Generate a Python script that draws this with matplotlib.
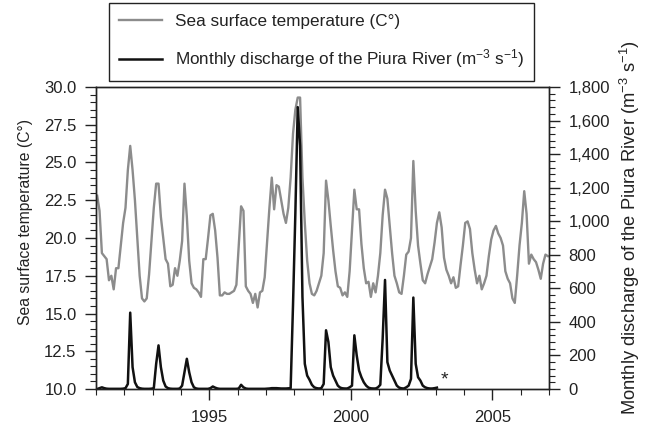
import numpy as np
import matplotlib
matplotlib.use('Agg')
import matplotlib.pyplot as plt
from matplotlib.ticker import MultipleLocator, FuncFormatter, FormatStrFormatter

plt.rcParams['font.family'] = ['Liberation Sans', 'DejaVu Sans']
plt.rcParams['mathtext.default'] = 'regular'
plt.rcParams['mathtext.fontset'] = 'custom'
plt.rcParams['mathtext.rm'] = 'Liberation Sans'

# ---------------- data (monthly, Jan 1991 onward) ----------------
start_year = 1991

sst = [
    22.8, 21.8, 19.0, 18.8, 18.6, 17.2, 17.5, 16.6, 18.0, 18.0, 19.5, 21.0,   # 1991
    22.0, 24.5, 26.1, 24.5, 22.5, 20.0, 17.5, 16.0, 15.8, 16.0, 17.6, 19.8,   # 1992
    22.0, 23.6, 23.6, 21.4, 20.0, 18.6, 18.3, 16.8, 16.9, 18.0, 17.5, 18.5,   # 1993
    19.8, 23.6, 21.4, 18.5, 17.0, 16.7, 16.6, 16.4, 16.1, 18.6, 18.6, 20.0,   # 1994
    21.5, 21.6, 20.5, 18.7, 16.2, 16.2, 16.4, 16.3, 16.3, 16.4, 16.5, 16.9,   # 1995
    19.5, 22.1, 21.8, 16.8, 16.5, 16.3, 15.7, 16.3, 15.4, 16.4, 16.5, 17.4,   # 1996
    19.7, 22.0, 24.0, 21.9, 23.5, 23.4, 22.5, 21.6, 21.0, 22.0, 24.0, 26.9,   # 1997
    28.5, 29.3, 29.3, 24.0, 21.0, 18.5, 17.0, 16.3, 16.2, 16.5, 17.0, 17.5,   # 1998
    19.0, 23.8, 22.5, 20.8, 19.2, 17.8, 16.8, 16.7, 16.2, 16.4, 16.1, 17.8,   # 1999
    20.5, 23.2, 21.9, 21.9, 19.6, 18.0, 17.0, 17.1, 16.1, 17.0, 16.4, 17.5,   # 2000
    19.0, 21.5, 23.2, 22.6, 20.8, 19.0, 17.5, 17.0, 16.4, 16.3, 17.5, 18.9,   # 2001
    19.1, 20.0, 25.1, 21.8, 19.5, 18.3, 17.2, 17.0, 17.6, 18.1, 18.6, 19.7,   # 2002
    21.0, 21.7, 20.7, 18.7, 17.9, 17.5, 17.0, 17.4, 16.7, 16.8, 18.2, 19.5,   # 2003
    21.0, 21.1, 20.6, 19.0, 17.9, 17.0, 17.5, 16.6, 17.0, 17.5, 18.8, 19.9,   # 2004
    20.5, 20.8, 20.3, 20.0, 19.5, 17.8, 17.3, 17.0, 16.0, 15.7, 17.5, 19.5,   # 2005
    21.0, 23.1, 21.6, 18.3, 18.9, 18.6, 18.4, 17.9, 17.3, 18.3, 18.9, 18.8,   # 2006
]

discharge = [
    0, 5, 10, 5, 2, 1, 1, 1, 1, 1, 1, 2,                    # 1991
    5, 30, 455, 130, 40, 12, 5, 2, 1, 1, 1, 2,              # 1992
    5, 150, 260, 130, 50, 15, 5, 2, 1, 1, 1, 3,             # 1993
    20, 100, 180, 100, 40, 10, 3, 1, 1, 1, 1, 1,            # 1994
    5, 15, 8, 3, 1, 1, 1, 1, 1, 1, 1, 1,                    # 1995
    3, 25, 10, 3, 1, 1, 1, 1, 1, 1, 1, 1,                   # 1996
    2, 3, 5, 5, 5, 4, 3, 3, 3, 4, 5, 500,                   # 1997
    1050, 1680, 1450, 550, 150, 80, 55, 25, 10, 5, 3, 5,    # 1998
    30, 350, 280, 130, 80, 50, 20, 8, 4, 3, 3, 10,          # 1999
    20, 320, 200, 110, 70, 40, 20, 8, 4, 3, 3, 10,          # 2000
    25, 300, 650, 160, 110, 80, 50, 20, 8, 4, 3, 10,        # 2001
    20, 60, 545, 150, 70, 50, 20, 10, 5, 3, 3, 5,           # 2002
    8,                                                       # Jan 2003
]

sst_label = 'Sea surface temperature (C°)'
dis_label = 'Monthly discharge of the Piura River (m$^{-3}$ s$^{-1}$)'
right_label = 'Monthly discharge of the Piura River (m$^{-3}$ s$^{-1}$)'

t_sst = start_year + (np.arange(len(sst)) + 0.5) / 12.0
t_dis = start_year + (np.arange(len(discharge)) + 0.5) / 12.0

# ---------------- figure ----------------
TXT = '#222222'
fig = plt.figure(figsize=(6.45, 4.29), dpi=100)
ax = fig.add_axes([96 / 645, 1 - 389 / 429, (549 - 96) / 645, (389 - 87) / 429])
l1, = ax.plot(t_sst, sst, color='#8c8c8c', lw=1.7, label=sst_label)
ax2 = ax.twinx()
l2, = ax2.plot(t_dis, discharge, color='#111111', lw=1.8, label=dis_label)

ax.set_xlim(1991, 2007)
ax.set_ylim(10, 30)
ax2.set_ylim(0, 1800)

ax.xaxis.set_major_locator(MultipleLocator(5))
ax.xaxis.set_minor_locator(MultipleLocator(1))
ax.yaxis.set_major_locator(MultipleLocator(2.5))
ax.yaxis.set_minor_locator(MultipleLocator(0.5))
ax.yaxis.set_major_formatter(FormatStrFormatter('%.1f'))
ax2.yaxis.set_major_locator(MultipleLocator(200))
ax2.yaxis.set_minor_locator(MultipleLocator(40))
ax2.yaxis.set_major_formatter(FuncFormatter(lambda v, p: f'{int(v):,}'))

for a in (ax, ax2):
    for s in a.spines.values():
        s.set_color(TXT)
        s.set_linewidth(1.0)
ax.tick_params(axis='both', which='major', direction='out', length=8, width=1.0,
               colors=TXT, labelsize=12, pad=6)
ax.tick_params(axis='both', which='minor', direction='out', length=4, width=0.8, colors=TXT)
ax.tick_params(axis='x', which='major', pad=7)
ax2.tick_params(axis='y', which='major', direction='out', length=8, width=1.0,
                colors=TXT, labelsize=12, pad=6)
ax2.tick_params(axis='y', which='minor', direction='out', length=4, width=0.8, colors=TXT)

ax.set_ylabel(sst_label, fontsize=11.3, color=TXT)
ax.yaxis.set_label_coords(-0.14, 0.553)
ax2.set_ylabel(right_label, fontsize=13.2, color=TXT, rotation=90)
ax2.yaxis.set_label_coords(1.153, 0.535)

ax2.text(2003.3, 55, '*', fontsize=14, color=TXT, ha='center', va='center')

leg = fig.legend([l1, l2], [sst_label, dis_label], loc='center',
                 bbox_to_anchor=((110 + 533) / 2 / 645, 1 - 42 / 429),
                 frameon=True, fancybox=False, edgecolor=TXT, framealpha=1,
                 handlelength=2.5, handletextpad=0.75, labelspacing=1.1,
                 borderpad=0.6, fontsize=12.3)
leg.get_frame().set_linewidth(1.0)
for tx in leg.get_texts():
    tx.set_color(TXT)

fig.savefig('out.png', dpi=100)
